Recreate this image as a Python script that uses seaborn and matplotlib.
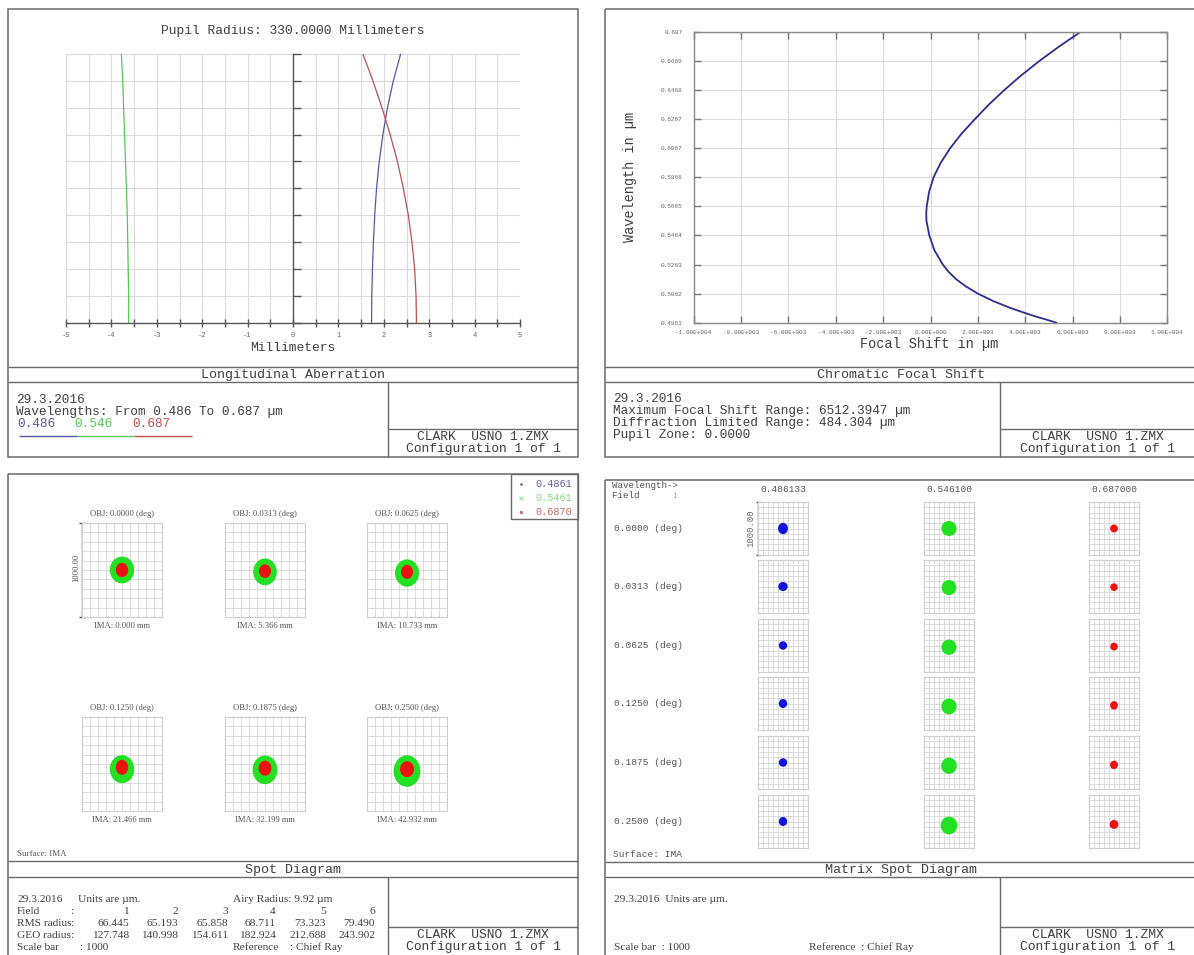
import numpy as np
import pandas as pd
import matplotlib
matplotlib.use("Agg")
import matplotlib.pyplot as plt
from matplotlib.patches import Rectangle, Ellipse
import seaborn as sns

sns.set_theme(style="white")
MONO = ["Liberation Mono", "DejaVu Sans Mono"]
SERIF = ["Liberation Serif", "DejaVu Serif"]
plt.rcParams["font.family"] = MONO

W, H = 1194, 955
INK = "#404040"
FRAME = "#6a6a6a"
GRID = "#dcdcdc"

# ---------------- Longitudinal aberration (pupil height vs focal shift, mm)
pupil = [0.0, 0.1, 0.2, 0.3, 0.4, 0.5, 0.6, 0.7, 0.8, 0.9, 1.0]
lon_486 = [1.73, 1.735, 1.75, 1.77, 1.80, 1.84, 1.90, 1.98, 2.08, 2.21, 2.37]
lon_546 = [-3.62, -3.62, -3.63, -3.64, -3.65, -3.67, -3.69, -3.71, -3.73, -3.75, -3.78]
lon_687 = [2.72, 2.71, 2.68, 2.62, 2.54, 2.43, 2.30, 2.14, 1.96, 1.76, 1.54]
lon_labels = ["0.486", "0.546", "0.687"]
lon_colors = ["#5757a8", "#55c855", "#bf5050"]
lon_xticks = [-5, -4, -3, -2, -1, 0, 1, 2, 3, 4, 5]

# ---------------- Chromatic focal shift (wavelength um vs shift um)
cfs_wavelength = [0.4861, 0.4911, 0.4961, 0.5011, 0.5062, 0.5112, 0.5162, 0.5212,
                  0.5263, 0.5363, 0.5464, 0.5564, 0.5615, 0.5665, 0.5765, 0.5866,
                  0.5966, 0.6067, 0.6167, 0.6267, 0.6368, 0.6468, 0.6569, 0.6669,
                  0.6770, 0.6870]
cfs_shift = [5320, 4300, 3400, 2640, 2000, 1490, 1080, 765,
             520, 160, -50, -170, -182, -160, -60, 130,
             430, 830, 1310, 1870, 2460, 3110, 3820, 4590,
             5430, 6330]
cfs_yticks = ["0.4861", "0.5062", "0.5263", "0.5464", "0.5665", "0.5866",
              "0.6067", "0.6267", "0.6468", "0.6669", "0.687"]
cfs_xticks = [-10000, -8000, -6000, -4000, -2000, 0, 2000, 4000, 6000, 8000, 10000]

# ---------------- Spot data per field (um): ellipse widths, heights, vertical offsets
fields = ["0.0000", "0.0313", "0.0625", "0.1250", "0.1875", "0.2500"]
ima_mm = ["0.000", "5.366", "10.733", "21.466", "32.199", "42.932"]
rms_radius = ["66.445", "65.193", "65.858", "68.711", "73.323", "79.490"]
geo_radius = ["127.748", "140.998", "154.611", "182.924", "212.688", "243.902"]
blue_w = [197, 190, 167, 167, 167, 167]
blue_h = [215, 170, 160, 170, 160, 170]
blue_dy = [0, 0, 0, 0, 0, 0]
green_w = [305, 295, 300, 305, 310, 335]
green_h = [285, 285, 290, 298, 305, 335]
green_dy = [0, -20, -32, -55, -62, -75]
red_w = [155, 150, 150, 155, 160, 175]
red_h = [150, 145, 150, 160, 160, 170]
red_dy = [0, -12, -20, -35, -45, -55]
spot_waves = ["0.486133", "0.546100", "0.687000"]
legend_waves = ["0.4861", "0.5461", "0.6870"]
spot_colors = ["#1010e0", "#22e022", "#ee1111"]
legend_text_colors = ["#6464b0", "#80dc80", "#c86464"]

fig = plt.figure(figsize=(W / 100, H / 100), dpi=100)


def px_axes(x0, y0, x1, y1):
    return fig.add_axes([x0 / W, 1 - y1 / H, (x1 - x0) / W, (y1 - y0) / H])


canvas = px_axes(0, 0, W, H)
canvas.set_xlim(0, W)
canvas.set_ylim(H, 0)
canvas.axis("off")


def line(xs, ys, color=FRAME, lw=1.0):
    canvas.plot(xs, ys, color=color, lw=lw, solid_capstyle="butt")


def text(x, y, s, size=9.2, ha="left", color=INK, family=MONO, **kw):
    canvas.text(x, y, s, fontsize=size, ha=ha, va="center", color=color,
                family=family, **kw)


def panel(x0, y0, x1, y1, bar, title, div_x, div_y, clark_x):
    canvas.add_patch(Rectangle((x0, y0), x1 - x0, y1 - y0, fill=False,
                               ec=FRAME, lw=1.1))
    line([x0, x1], [bar[0]] * 2)
    line([x0, x1], [bar[1]] * 2)
    text((x0 + x1) / 2, (bar[0] + bar[1]) / 2 + 0.5, title, size=9.6, ha="center")
    line([div_x] * 2, [bar[1], y1])
    line([div_x, x1], [div_y] * 2)
    text(clark_x, div_y + 7.5, "CLARK  USNO 1.ZMX", size=9.4, ha="center")
    text(clark_x, div_y + 20, "Configuration 1 of 1", size=9.4, ha="center")


panel(8, 9, 578, 457, (367, 382), "Longitudinal Aberration", 388, 429, 483)
panel(605, 9, 1197, 457, (367, 382), "Chromatic Focal Shift", 1000, 429, 1098)
panel(8, 474, 578, 962, (861, 877), "Spot Diagram", 388, 927, 483)
panel(605, 480, 1197, 962, (862, 877), "Matrix Spot Diagram", 1000, 927, 1098)

# ================= Longitudinal aberration
ax = px_axes(66, 54, 520, 322.7)
lon_df = pd.DataFrame({
    "shift": lon_486 + lon_546 + lon_687,
    "pupil": pupil * 3,
    "wave": [w for w in lon_labels for _ in pupil],
})
sns.lineplot(data=lon_df, x="shift", y="pupil", hue="wave", palette=lon_colors,
             sort=False, estimator=None, legend=False, lw=0.9, ax=ax)
ax.set_xlim(-5, 5)
ax.set_ylim(0, 1)
ax.set_xticks(lon_xticks)
ax.set_xticklabels([str(t) for t in lon_xticks])
ax.set_xticks(np.arange(-4.5, 5, 1.0), minor=True)
ax.set_yticks(np.arange(0, 1.01, 0.1))
ax.set_yticklabels([])
ax.grid(True, which="both", color=GRID, lw=0.8)
ax.set_axisbelow(True)
ax.spines["top"].set_visible(False)
ax.spines["right"].set_visible(False)
ax.spines["left"].set_position(("data", 0))
for s in ("left", "bottom"):
    ax.spines[s].set_color("#555555")
    ax.spines[s].set_linewidth(1.0)
ax.tick_params(axis="y", direction="in", length=6, width=1, color="#555555", left=True)
ax.tick_params(axis="x", which="both", direction="inout", length=6, width=1,
               color="#555555", bottom=True, labelsize=5, labelcolor="#666666", pad=4)
ax.set_xlabel("")
ax.set_ylabel("")
text(293, 31, "Pupil Radius: 330.0000 Millimeters", size=9.4, ha="center")
text(293, 348, "Millimeters", size=9.4, ha="center")
text(16, 400, "29.3.2016")
text(16, 412, "Wavelengths: From 0.486 To 0.687 \u00b5m")
for i, (lab, col) in enumerate(zip(lon_labels, lon_colors)):
    x0 = 17 + i * 57.5
    text(x0, 424, lab, color=col)
    line([x0 + 2, x0 + 59.5], [435.5, 435.5], color=col, lw=1.0)


# ================= Chromatic focal shift
def zemax_exp(v):
    if v == 0:
        return "0.00E+000"
    e = int(np.floor(np.log10(abs(v))))
    return f"{v / 10 ** e:.2f}E{e:+04d}"


ax2 = px_axes(693.6, 32, 1167.4, 322.7)
sns.lineplot(x=cfs_shift, y=cfs_wavelength, sort=False, estimator=None,
             color="#2d2d8f", lw=1.3, ax=ax2)
ax2.set_xlim(-10000, 10000)
ax2.set_ylim(0.4861, 0.687)
ax2.set_xticks(cfs_xticks)
ax2.set_xticklabels([zemax_exp(v) for v in cfs_xticks])
ax2.set_yticks([float(t) for t in cfs_yticks])
ax2.set_yticklabels(cfs_yticks)
ax2.grid(True, color=GRID, lw=0.8)
ax2.set_axisbelow(True)
for s in ax2.spines.values():
    s.set_color("#8a8a8a")
    s.set_linewidth(1.0)
ax2.tick_params(which="both", direction="in", length=5, width=1, color="#777777",
                top=True, right=True, left=True, bottom=True,
                labelsize=4.4, labelcolor="#666666")
ax2.tick_params(axis="x", pad=5)
ax2.tick_params(axis="y", pad=8)
ax2.set_xlabel("")
ax2.set_ylabel("")
text(929, 344, "Focal Shift in \u00b5m", size=9.8, ha="center")
text(630, 177, "Wavelength in \u00b5m", size=9.8, ha="center", rotation=90)
text(613, 399, "29.3.2016")
text(613, 411, "Maximum Focal Shift Range: 6512.3947 \u00b5m")
text(613, 423, "Diffraction Limited Range: 484.304 \u00b5m")
text(613, 435, "Pupil Zone: 0.0000")


# ================= Spot cells
def cell(x0, y0, w, h, n=10):
    a = px_axes(x0, y0, x0 + w, y0 + h)
    a.set_xlim(-500, 500)
    a.set_ylim(-500, 500)
    t = np.linspace(-500, 500, n + 1)
    a.set_xticks(t)
    a.set_yticks(t)
    a.tick_params(length=0, labelbottom=False, labelleft=False)
    a.grid(True, color="#d6d6d6", lw=0.6)
    a.set_facecolor("white")
    for s in a.spines.values():
        s.set_color("#cfcfcf")
        s.set_linewidth(0.8)
    return a


def blob(a, cx, dy, w, h, color):
    a.add_patch(Ellipse((cx, dy), w, h, fc=color, ec="none", zorder=3))


# ---- Spot diagram (all wavelengths overlaid)
spot_cx = [122, 265, 407]
spot_top = [523, 717]
SW, SH = 80, 94
for i, f in enumerate(fields):
    r, c = divmod(i, 3)
    x0 = spot_cx[c] - SW / 2
    y0 = spot_top[r]
    a = cell(x0, y0, SW, SH)
    blob(a, 0, blue_dy[i], blue_w[i], blue_h[i], spot_colors[0])
    blob(a, 0, green_dy[i], green_w[i], green_h[i], spot_colors[1])
    blob(a, 0, red_dy[i], red_w[i], red_h[i], spot_colors[2])
    text(spot_cx[c], y0 - 9, f"OBJ: {f} (deg)", size=6.2, ha="center",
         color="#555555", family=SERIF)
    text(spot_cx[c], y0 + SH + 8.5, f"IMA: {ima_mm[i]} mm", size=6.2, ha="center",
         color="#555555", family=SERIF)

# scale bar on the first spot box
bx = spot_cx[0] - SW / 2
line([bx, bx], [spot_top[0], spot_top[0] + SH], color="#555555", lw=1)
line([bx - 3, bx + 3], [spot_top[0]] * 2, color="#555555", lw=1)
line([bx - 3, bx + 3], [spot_top[0] + SH] * 2, color="#555555", lw=1)
text(bx - 6, spot_top[0] + SH / 2 - 2, "1000.00", size=6.2, ha="center",
     color="#555555", family=SERIF, rotation=90)

# legend box
canvas.add_patch(Rectangle((510.5, 474), 67.5, 45, fill=False, ec=FRAME, lw=1))
leg_markers = [".", "x", "s"]
leg_sizes = [2.5, 2.2, 2.0]
for k in range(3):
    yy = 483.5 + k * 14.3
    canvas.plot([521], [yy], marker=leg_markers[k], ms=leg_sizes[k], mew=0.6,
                color=legend_text_colors[k], ls="none")
    text(535, yy, legend_waves[k], size=7.4, color=legend_text_colors[k])

text(17, 854, "Surface: IMA", size=6.4, color="#555555", family=SERIF)

# statistics table
ST = 8.2
text(17, 899, "29.3.2016", size=ST, family=SERIF)
text(78, 899, "Units are \u00b5m.", size=ST, family=SERIF)
text(233, 899, "Airy Radius: 9.92 \u00b5m", size=ST, family=SERIF)
row_y = [911, 923, 935]
row_names = ["Field", "RMS radius", "GEO radius"]
row_vals = [[str(k + 1) for k in range(6)], rms_radius, geo_radius]
col_right = [129, 178, 228, 276, 326, 375]
for yy, name, vals in zip(row_y, row_names, row_vals):
    text(17, yy, name, size=ST, family=SERIF)
    text(70, yy, ":", size=ST, family=SERIF)
    for xr, v in zip(col_right, vals):
        text(xr, yy, v, size=ST, ha="right", family=SERIF)
text(17, 947, "Scale bar", size=ST, family=SERIF)
text(80, 947, ": 1000", size=ST, family=SERIF)
text(233, 947, "Reference", size=ST, family=SERIF)
text(290, 947, ": Chief Ray", size=ST, family=SERIF)

# ---- Matrix spot diagram (one column per wavelength)
mat_cx = [783, 949, 1114]
mat_top = [502, 560, 619, 677, 736, 795]
MW, MH = 50, 53
sizes = [(blue_w, blue_h, blue_dy), (green_w, green_h, green_dy), (red_w, red_h, red_dy)]
for i, f in enumerate(fields):
    for c in range(3):
        a = cell(mat_cx[c] - MW / 2, mat_top[i], MW, MH)
        ws, hs, dys = sizes[c]
        blob(a, 0, dys[i], ws[i], hs[i], spot_colors[c])
    text(614, mat_top[i] + MH / 2, f"{f} (deg)", size=6.8, color="#555555")
for c in range(3):
    text(mat_cx[c], 489, spot_waves[c], size=6.8, ha="center", color="#555555")
text(612, 485.5, "Wavelength->", size=6.6, color="#555555")
text(612, 495, "Field      :", size=6.6, color="#555555")

mx = mat_cx[0] - MW / 2
line([mx, mx], [mat_top[0], mat_top[0] + MH], color="#555555", lw=1)
line([mx - 2, mx + 3], [mat_top[0]] * 2, color="#555555", lw=1)
line([mx - 2, mx + 3], [mat_top[0] + MH] * 2, color="#555555", lw=1)
text(mx - 7, mat_top[0] + MH / 2, "1000.00", size=6.4, ha="center",
     color="#666666", rotation=90)

text(613, 854, "Surface: IMA", size=6.8, color="#555555")
text(614, 899, "29.3.2016  Units are \u00b5m.", size=ST, family=SERIF)
text(614, 947, "Scale bar  : 1000", size=ST, family=SERIF)
text(809, 947, "Reference  : Chief Ray", size=ST, family=SERIF)

fig.savefig("out.png", dpi=100, facecolor="white")
